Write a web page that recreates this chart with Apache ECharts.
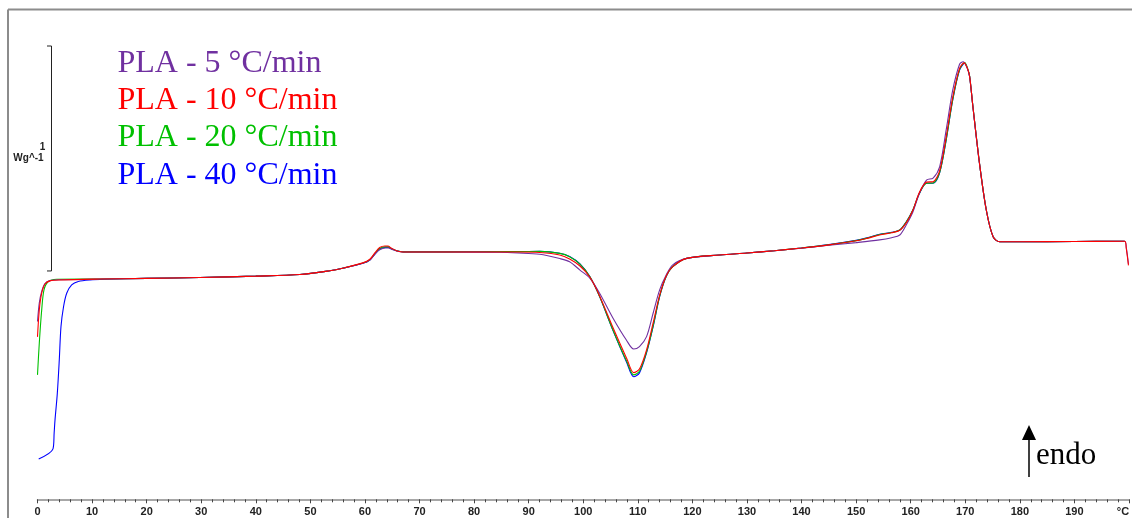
<!DOCTYPE html>
<html>
<head>
<meta charset="utf-8">
<script src="https://cdn.jsdelivr.net/npm/echarts@6/dist/echarts.min.js"></script>
<style>
  html, body { margin: 0; padding: 0; background: #fff; }
  #chart { width: 1132px; height: 518px; }
</style>
</head>
<body>
<div id="chart"></div>
<script>
// DSC heating scans of PLA at four rates: [temperature °C, heat flow W/g (relative, endo up)]
const seriesNames = ['PLA - 5 °C/min', 'PLA - 10 °C/min', 'PLA - 20 °C/min', 'PLA - 40 °C/min'];

const pla5 = [
  [0, -0.225], [0.33, -0.142], [0.77, -0.091], [1.37, -0.056], [2.29, -0.043], [4.12, -0.039],
  [11.45, -0.036], [20, -0.033], [29.76, -0.029], [40, -0.023], [48.08, -0.016], [53.57, 0.001],
  [55.9, 0.012], [59.62, 0.034], [60.9, 0.048], [61.81, 0.074], [62.7, 0.094], [63.75, 0.102],
  [64.3, 0.102], [64.87, 0.097], [65.79, 0.089], [67.0, 0.084], [75.5, 0.084], [84.7, 0.083],
  [88, 0.080], [92.0, 0.074], [95.7, 0.055], [97.5, 0.041], [99.4, 0.004], [101.2, -0.032],
  [103.0, -0.099], [105.46, -0.210], [107.9, -0.307], [109.25, -0.347], [110.3, -0.336],
  [111.6, -0.292], [112.8, -0.188], [114.0, -0.084], [115.2, -0.018], [116.4, 0.027],
  [118.95, 0.056], [125.0, 0.071], [130, 0.080], [135, 0.090], [140, 0.101], [145, 0.114],
  [150, 0.126], [154.3, 0.138], [156.5, 0.148], [158, 0.160], [159.2, 0.205], [160.4, 0.262],
  [161.6, 0.345], [162.9, 0.404], [164.1, 0.413], [165.3, 0.463], [166.5, 0.627], [167.7, 0.804],
  [168.95, 0.919], [169.6, 0.930], [170.3, 0.905], [170.8, 0.864], [171.4, 0.730], [172.6, 0.479],
  [173.85, 0.271], [175.1, 0.152], [176.3, 0.130], [180, 0.130], [190, 0.131], [199.2, 0.132],
  [199.5, 0.105], [199.9, 0.030]
];

const pla10 = [
  [0, -0.293], [0.33, -0.173], [0.77, -0.099], [1.37, -0.058], [2.29, -0.044], [4.12, -0.040],
  [11.45, -0.036], [20, -0.033], [29.76, -0.029], [40, -0.023], [48.08, -0.016], [53.57, 0.001],
  [55.9, 0.012], [59.62, 0.036], [60.9, 0.052], [61.81, 0.080], [62.7, 0.104], [63.65, 0.111],
  [64.2, 0.111], [64.87, 0.101], [65.79, 0.090], [67.0, 0.084], [75.5, 0.084], [84.7, 0.084],
  [88, 0.084], [92.03, 0.082], [95.7, 0.071], [97.5, 0.053], [99.4, 0.022], [101.2, -0.027],
  [103.0, -0.111], [105.4, -0.249], [108.0, -0.391], [109.25, -0.452], [110.3, -0.436],
  [111.6, -0.351], [112.8, -0.231], [114.0, -0.107], [115.2, -0.022], [116.4, 0.019],
  [118.95, 0.056], [125.0, 0.071], [130, 0.080], [135, 0.090], [140, 0.102], [145, 0.116],
  [150, 0.134], [152, 0.145], [154.3, 0.160], [156.5, 0.170], [158, 0.181], [159.2, 0.215],
  [160.4, 0.270], [161.6, 0.350], [162.9, 0.395], [164.1, 0.397], [165.3, 0.445], [166.5, 0.595],
  [167.7, 0.772], [168.95, 0.900], [169.8, 0.925], [170.4, 0.900], [170.8, 0.864], [171.4, 0.730],
  [172.6, 0.479], [173.85, 0.271], [175.1, 0.152], [176.3, 0.130], [180, 0.130], [190, 0.131],
  [199.2, 0.132], [199.5, 0.100], [199.9, 0.025]
];

const pla20 = [
  [0, -0.462], [0.33, -0.320], [0.77, -0.173], [1.19, -0.084], [1.98, -0.047], [3.5, -0.037],
  [11.45, -0.036], [20, -0.033], [29.76, -0.029], [40, -0.023], [48.08, -0.016], [53.57, 0.001],
  [55.9, 0.012], [59.62, 0.035], [60.9, 0.050], [61.81, 0.077], [62.7, 0.100], [63.75, 0.107],
  [64.3, 0.107], [64.87, 0.099], [65.79, 0.090], [67.0, 0.085], [75.5, 0.085], [84.7, 0.086],
  [88, 0.086], [92.03, 0.087], [95.7, 0.078], [97.5, 0.063], [99.4, 0.030], [101.2, -0.025],
  [103.0, -0.114], [105.4, -0.260], [108.0, -0.404], [109.25, -0.462], [110.3, -0.446],
  [111.6, -0.360], [112.8, -0.245], [114.0, -0.112], [115.2, -0.024], [116.4, 0.019],
  [118.95, 0.056], [125.0, 0.071], [130, 0.080], [135, 0.090], [140, 0.102], [145, 0.116],
  [150, 0.135], [152, 0.146], [154.3, 0.162], [156.5, 0.171], [158, 0.182], [159.2, 0.218],
  [160.4, 0.271], [161.6, 0.345], [162.9, 0.390], [164.1, 0.391], [165.3, 0.437], [166.5, 0.584],
  [167.7, 0.762], [168.95, 0.895], [169.9, 0.926], [170.5, 0.895], [170.8, 0.866], [171.4, 0.732],
  [172.6, 0.480], [173.85, 0.271], [175.1, 0.152], [176.3, 0.130], [180, 0.130], [190, 0.131],
  [199.2, 0.132]
];

const pla40 = [
  [0.22, -0.836], [2.84, -0.791], [3.05, -0.72], [3.21, -0.662], [3.63, -0.544], [3.99, -0.396],
  [4.30, -0.248], [4.77, -0.159], [5.35, -0.099], [6.26, -0.062], [7.47, -0.047], [9.62, -0.040],
  [12.36, -0.037], [20, -0.033], [29.76, -0.029], [40, -0.023], [48.08, -0.016], [53.57, 0.001],
  [55.9, 0.012], [59.62, 0.034], [60.9, 0.049], [61.81, 0.075], [62.7, 0.098], [63.8, 0.105],
  [64.3, 0.105], [64.87, 0.099], [65.79, 0.090], [67.0, 0.085], [75.5, 0.085], [84.7, 0.086],
  [88, 0.086], [92.03, 0.087], [95.7, 0.079], [97.5, 0.064], [99.4, 0.031], [101.2, -0.025],
  [103.0, -0.114], [105.4, -0.262], [108.0, -0.409], [109.25, -0.470], [110.3, -0.453],
  [111.6, -0.364], [112.8, -0.248], [114.0, -0.114], [115.2, -0.025], [116.4, 0.019],
  [118.95, 0.056], [125.0, 0.071], [130, 0.080], [135, 0.090], [140, 0.102], [145, 0.117],
  [150, 0.136], [152, 0.147], [154.3, 0.163], [156.5, 0.172], [158, 0.182], [159.2, 0.219],
  [160.4, 0.271], [161.6, 0.345], [162.9, 0.390], [164.1, 0.390], [165.3, 0.436], [166.5, 0.582],
  [167.7, 0.760], [168.95, 0.893], [169.9, 0.923], [170.5, 0.893], [170.8, 0.864], [171.4, 0.730],
  [172.6, 0.479], [173.85, 0.271], [175.1, 0.152], [176.3, 0.130], [180, 0.130], [190, 0.131],
  [199.2, 0.132]
];

// x-axis: tick labels every 10 °C, unit shown at the end of the scale
const xTickStep = 10;
const xRange = [0, 200];
const xUnit = '°C';
// scale bar: 1 W/g
const scaleBarRange = [0, 1];
const scaleBarLabel = ['1', 'Wg^-1'];
const endoLabel = 'endo';

const seriesData = [pla5, pla10, pla20, pla40];
const lineColors = ['#7030A0', '#FF0000', '#00C000', '#0000FF'];
const drawOrder = [3, 2, 0, 1];

const chart = echarts.init(document.getElementById('chart'), null, { renderer: 'canvas' });

const option = {
  animation: false,
  backgroundColor: '#ffffff',
  grid: { left: 37.5, right: 2.5, top: 46, bottom: 18.7, containLabel: false },
  xAxis: {
    type: 'value',
    min: xRange[0],
    max: xRange[1],
    interval: xTickStep,
    axisLine: { show: true, onZero: false, lineStyle: { color: '#8a8a8a', width: 1.5 } },
    axisTick: { show: true, length: 4, lineStyle: { color: '#444', width: 1 } },
    minorTick: { show: true, splitNumber: 5, length: 3, lineStyle: { color: '#444', width: 1 } },
    splitLine: { show: false },
    minorSplitLine: { show: false },
    axisLabel: {
      margin: 7,
      fontFamily: 'Liberation Sans, Arial, sans-serif',
      fontWeight: 'bold',
      fontSize: 11,
      color: '#222',
      formatter: v => (v >= xRange[1] ? '' : String(v))
    }
  },
  yAxis: { type: 'value', min: -1.015, max: 1, show: false, splitLine: { show: false } },
  series: drawOrder.map(i => ({
    name: seriesNames[i],
    type: 'line',
    data: seriesData[i],
    showSymbol: false,
    smooth: 0.3,
    lineStyle: { color: lineColors[i], width: 1.1 },
    z: 2
  }))
};
chart.setOption(option);

// overlay: frame, legend text, scale bar, endo arrow, unit label
const yTop = chart.convertToPixel({ yAxisIndex: 0 }, scaleBarRange[1]);
const yBot = chart.convertToPixel({ yAxisIndex: 0 }, scaleBarRange[0]);
const barX = 51.5;
const serif = 'Liberation Serif, Times New Roman, serif';

const graphics = [
  { type: 'line', shape: { x1: 8, y1: 9.5, x2: 1132, y2: 9.5 }, style: { stroke: '#8c8c8c', lineWidth: 2 } },
  { type: 'line', shape: { x1: 8, y1: 9.5, x2: 8, y2: 518 }, style: { stroke: '#8c8c8c', lineWidth: 2 } },
  { type: 'polyline', shape: { points: [[barX - 4.5, yTop], [barX, yTop], [barX, yBot], [barX - 4.5, yBot]] },
    style: { stroke: '#222', lineWidth: 1, fill: null } },
  { type: 'text', x: 42.5, y: 147, style: { text: scaleBarLabel[0], font: 'bold 10px Liberation Sans, Arial', fill: '#222', textAlign: 'center', textVerticalAlign: 'middle' } },
  { type: 'text', x: 28.5, y: 158.5, style: { text: scaleBarLabel[1], font: 'bold 10px Liberation Sans, Arial', fill: '#222', textAlign: 'center', textVerticalAlign: 'middle' } },
  { type: 'text', x: 1123, y: 511.5, style: { text: xUnit, font: 'bold 11px Liberation Sans, Arial', fill: '#222', textAlign: 'center', textVerticalAlign: 'middle' } },
  { type: 'line', shape: { x1: 1029, y1: 477, x2: 1029, y2: 436 }, style: { stroke: '#000', lineWidth: 1.5 } },
  { type: 'polygon', shape: { points: [[1029, 425], [1022, 440], [1036, 440]] }, style: { fill: '#000' } },
  { type: 'text', x: 1036, y: 440, style: { text: endoLabel, font: '31px ' + serif, fill: '#000', textAlign: 'left', textVerticalAlign: 'top' } }
];

const legendTops = [47.5, 84.5, 121.5, 159.5];
seriesNames.forEach((name, i) => {
  graphics.push({
    type: 'text', x: 117.5, y: legendTops[i],
    style: { text: name, font: '32px ' + serif, fill: lineColors[i], textAlign: 'left', textVerticalAlign: 'top' }
  });
});

chart.setOption({ graphic: { elements: graphics } });
</script>
</body>
</html>
